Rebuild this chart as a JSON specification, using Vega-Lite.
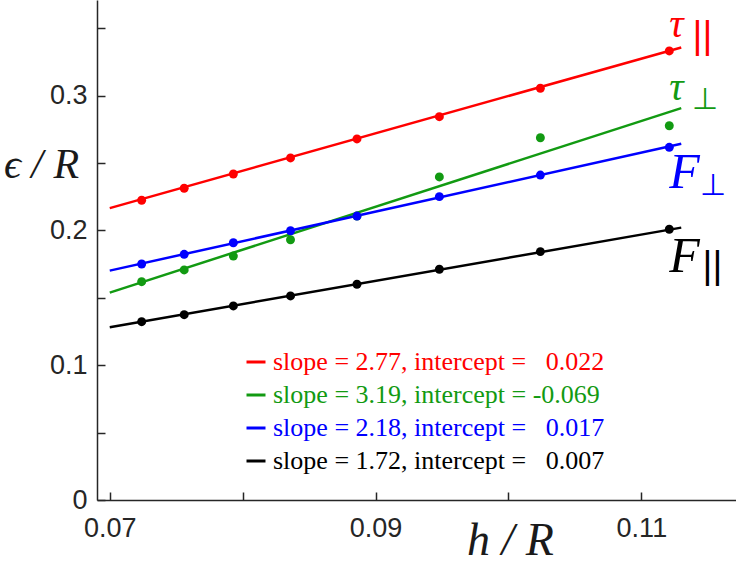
{
  "$schema": "https://vega.github.io/schema/vega-lite/v6.json",
  "width": 639,
  "height": 500,
  "autosize": "none",
  "padding": {"left": 97, "top": 0, "right": 0, "bottom": 63},
  "background": "#ffffff",
  "datasets": {
    "fits": [
      {"series": "tau_par", "h": 0.0700, "eps": 0.2166},
      {"series": "tau_par", "h": 0.1130, "eps": 0.3358},
      {"series": "tau_perp", "h": 0.0700, "eps": 0.1539},
      {"series": "tau_perp", "h": 0.1130, "eps": 0.2908},
      {"series": "F_perp", "h": 0.0700, "eps": 0.1702},
      {"series": "F_perp", "h": 0.1130, "eps": 0.2643},
      {"series": "F_par", "h": 0.0700, "eps": 0.1282},
      {"series": "F_par", "h": 0.1130, "eps": 0.2021}
    ],
    "points": [
      {"series": "F_par", "h": 0.0724, "eps": 0.1323},
      {"series": "F_par", "h": 0.0756, "eps": 0.1375},
      {"series": "F_par", "h": 0.0793, "eps": 0.1440},
      {"series": "F_par", "h": 0.0836, "eps": 0.1514},
      {"series": "F_par", "h": 0.0886, "eps": 0.1601},
      {"series": "F_par", "h": 0.0948, "eps": 0.1712},
      {"series": "F_par", "h": 0.1024, "eps": 0.1843},
      {"series": "F_par", "h": 0.1121, "eps": 0.2009},
      {"series": "tau_perp", "h": 0.0724, "eps": 0.1620},
      {"series": "tau_perp", "h": 0.0756, "eps": 0.1707},
      {"series": "tau_perp", "h": 0.0793, "eps": 0.1810},
      {"series": "tau_perp", "h": 0.0836, "eps": 0.1931},
      {"series": "tau_perp", "h": 0.0886, "eps": 0.2107},
      {"series": "tau_perp", "h": 0.0948, "eps": 0.2397},
      {"series": "tau_perp", "h": 0.1024, "eps": 0.2688},
      {"series": "tau_perp", "h": 0.1121, "eps": 0.2777},
      {"series": "F_perp", "h": 0.0724, "eps": 0.1751},
      {"series": "F_perp", "h": 0.0756, "eps": 0.1823},
      {"series": "F_perp", "h": 0.0793, "eps": 0.1909},
      {"series": "F_perp", "h": 0.0836, "eps": 0.1998},
      {"series": "F_perp", "h": 0.0886, "eps": 0.2107},
      {"series": "F_perp", "h": 0.0948, "eps": 0.2251},
      {"series": "F_perp", "h": 0.1024, "eps": 0.2411},
      {"series": "F_perp", "h": 0.1121, "eps": 0.2617},
      {"series": "tau_par", "h": 0.0724, "eps": 0.2224},
      {"series": "tau_par", "h": 0.0756, "eps": 0.2313},
      {"series": "tau_par", "h": 0.0793, "eps": 0.2419},
      {"series": "tau_par", "h": 0.0836, "eps": 0.2538},
      {"series": "tau_par", "h": 0.0886, "eps": 0.2679},
      {"series": "tau_par", "h": 0.0948, "eps": 0.2844},
      {"series": "tau_par", "h": 0.1024, "eps": 0.3055},
      {"series": "tau_par", "h": 0.1121, "eps": 0.3332}
    ],
    "labels": [
      {"series": "tau_par", "part": "main", "text": "τ", "h": 0.1121, "eps": 0.3438},
      {"series": "tau_perp", "part": "main", "text": "τ", "h": 0.1121, "eps": 0.2968},
      {"series": "F_perp", "part": "main", "text": "F", "h": 0.1121, "eps": 0.2315},
      {"series": "F_par", "part": "main", "text": "F", "h": 0.1121, "eps": 0.1692},
      {"series": "tau_par", "part": "sub", "text": "||", "h": 0.11385, "eps": 0.3354},
      {"series": "tau_perp", "part": "sub", "text": "⊥", "h": 0.11378, "eps": 0.2901},
      {"series": "F_perp", "part": "sub", "text": "⊥", "h": 0.11438, "eps": 0.2263},
      {"series": "F_par", "part": "sub", "text": "||", "h": 0.11460, "eps": 0.1647}
    ]
  },
  "encoding": {
    "x": {
      "field": "h",
      "type": "quantitative",
      "scale": {"domain": [0.06904, 0.11712], "nice": false, "zero": false},
      "axis": {
        "title": "h / R",
        "values": [0.07, 0.08, 0.09, 0.1, 0.11],
        "labelExpr": "round(datum.value*100) % 2 == 1 ? format(datum.value, '.2f') : ''",
        "labelPadding": 23,
        "titleX": 413,
        "titleY": 54,
        "titleFontSize": 46
      }
    },
    "y": {
      "field": "eps",
      "type": "quantitative",
      "scale": {"domain": [0, 0.371], "nice": false},
      "axis": {
        "title": "ϵ / R",
        "values": [0, 0.05, 0.1, 0.15, 0.2, 0.25, 0.3, 0.35],
        "labelExpr": "datum.value == 0 ? '0' : (round(datum.value*100) % 10 == 0 ? format(datum.value, '.1f') : '')",
        "labelPadding": 18,
        "titleAngle": 0,
        "titleX": -56,
        "titleY": 177,
        "titleFontSize": 42
      }
    }
  },
  "layer": [
    {
      "data": {"name": "fits"},
      "mark": {"type": "line", "strokeWidth": 2.5},
      "encoding": {
        "color": {
          "field": "series",
          "type": "nominal",
          "scale": {
            "domain": ["tau_par", "tau_perp", "F_perp", "F_par"],
            "range": ["#ff0000", "#129a12", "#0000ff", "#000000"]
          },
          "legend": {
            "title": null,
            "orient": "none",
            "legendX": 146,
            "legendY": 349,
            "symbolType": "stroke",
            "symbolSize": 361,
            "symbolStrokeWidth": 3,
            "labelFont": "Liberation Serif",
            "labelFontSize": 26,
            "labelOffset": 4,
            "rowPadding": 7,
            "padding": 0,
            "labelLimit": 0,
            "labelExpr": "datum.value == 'tau_par' ? 'slope = 2.77, intercept = \u20020.022' : datum.value == 'tau_perp' ? 'slope = 3.19, intercept = -0.069' : datum.value == 'F_perp' ? 'slope = 2.18, intercept = \u20020.017' : 'slope = 1.72, intercept = \u20020.007'",
            "encode": {"labels": {"update": {"fill": {"scale": "color", "field": "value"}}}}
          }
        }
      }
    },
    {
      "data": {"name": "points"},
      "mark": {"type": "circle", "size": 80, "opacity": 1},
      "encoding": {
        "color": {"field": "series", "type": "nominal", "legend": null}
      }
    },
    {
      "data": {"name": "labels"},
      "transform": [{"filter": "datum.part == 'main'"}],
      "mark": {"type": "text", "font": "Liberation Serif", "fontStyle": "italic", "align": "left", "baseline": "alphabetic"},
      "encoding": {
        "text": {"field": "text"},
        "size": {"condition": {"test": "datum.text == 'τ'", "value": 40}, "value": 50},
        "color": {"field": "series", "type": "nominal", "legend": null}
      }
    },
    {
      "data": {"name": "labels"},
      "transform": [{"filter": "datum.part == 'sub'"}],
      "mark": {"type": "text", "font": "Liberation Sans", "align": "left", "baseline": "alphabetic"},
      "encoding": {
        "text": {"field": "text"},
        "size": {"condition": {"test": "datum.text == '||'", "value": 38}, "value": 30},
        "color": {"field": "series", "type": "nominal", "legend": null}
      }
    }
  ],
  "config": {
    "view": {"stroke": null},
    "axis": {
      "grid": false,
      "domainColor": "#262626",
      "domainWidth": 1.5,
      "tickColor": "#262626",
      "tickWidth": 1.5,
      "tickSize": -8,
      "labelFont": "Liberation Sans",
      "labelFontSize": 27,
      "labelColor": "#262626",
      "titleFont": "Liberation Serif",
      "titleFontStyle": "italic",
      "titleFontWeight": "normal",
      "titleColor": "#1a1a1a",
      "titleAlign": "center",
      "titleBaseline": "alphabetic"
    }
  }
}
